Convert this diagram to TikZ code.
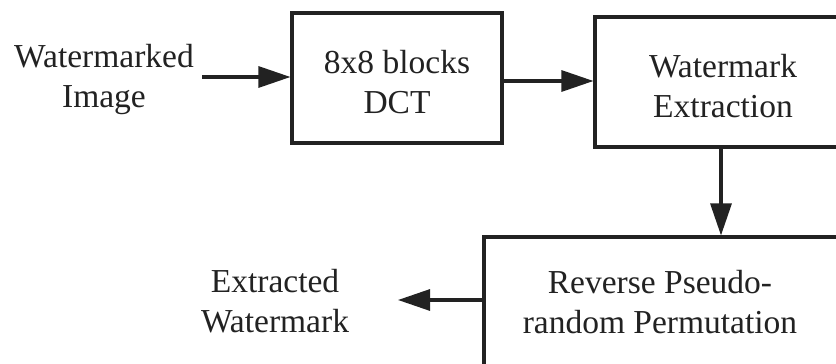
\documentclass[tikz,border=0pt]{standalone}
\usepackage{fontspec}
\setmainfont{Liberation Serif}
\usetikzlibrary{arrows.meta}
\definecolor{ink}{HTML}{222222}
\tikzset{
  blk/.style={draw=ink, line width=3.1pt, fill=white, inner sep=0pt},
  lbl/.style={align=center, text=ink, font=\fontsize{33.5}{40}\selectfont, inner sep=0pt},
  arr/.style={draw=ink, line width=3.1pt, -{Triangle[length=32pt,width=21pt]}}
}
\begin{document}
\begin{tikzpicture}[x=1pt,y=-1pt]
\useasboundingbox (0,0) rectangle (836,364);
\clip (0,0) rectangle (836,364);
\fill[white] (0,0) rectangle (836,364);
% blocks
\node[blk, minimum width=210pt, minimum height=130pt] (b1) at (397,78) {};
\node[lbl] (b1t) at (397,82) {8x8 blocks\\DCT};
\node[blk, minimum width=252pt, minimum height=130pt] (b2) at (721,82) {};
\node[lbl] (b2t) at (723,86) {Watermark\\Extraction};
\node[blk, minimum width=380pt, minimum height=134pt] (b3) at (674,304) {};
\node[lbl] (b3t) at (660,302) {Reverse Pseudo-\\random Permutation};
% outside labels
\node[lbl] (inp) at (104,79) {Watermarked\\Image};
\node[lbl] (out) at (275,301) {Extracted\\Watermark};
\coordinate (in1) at (202,77);
\coordinate (out1) at (398,300);
% connectors
\draw[arr] (in1) -- (b1.west |- in1);
\draw[arr] (b1.east |- 0,81) -- (b2.west |- 0,81);
\draw[arr] (b2.south) -- (b2.south |- b3.north);
\draw[arr] (b3.west |- out1) -- (out1);
\end{tikzpicture}
\end{document}
